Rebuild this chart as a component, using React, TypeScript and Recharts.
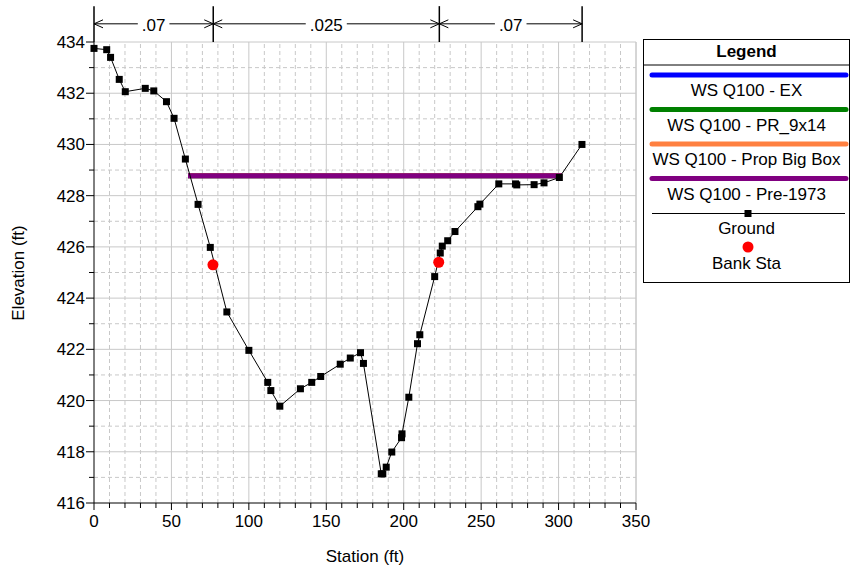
import { ComposedChart, XAxis, YAxis, Scatter, ReferenceLine } from 'recharts'

const groundStation = [
  0, 8.2, 10.7, 16.3, 20.2, 33.1, 38.6, 46.8, 51.7, 59.0, 67.2, 75.1, 85.8, 100.0, 112.2, 114.2, 120.0, 133.3,
  140.6, 146.4, 159.0, 165.5, 172.1, 174.0, 185.5, 186.5, 188.7, 192.3, 198.6, 198.9, 203.3, 208.9, 210.4,
  220.0, 223.6, 224.9, 228.4, 233.1, 247.9, 249.2, 261.4, 272.2, 273.0, 284.2, 290.6, 300.5, 315.1,
]
const groundElev = [
  433.75, 433.7, 433.4, 432.54, 432.06, 432.19, 432.09, 431.67, 431.02, 429.43, 427.66, 425.98, 423.46, 421.96,
  420.71, 420.39, 419.78, 420.46, 420.71, 420.94, 421.42, 421.66, 421.87, 421.45, 417.14, 417.14, 417.4, 417.99,
  418.55, 418.7, 420.13, 422.22, 422.57, 424.84, 425.76, 426.03, 426.24, 426.6, 427.57, 427.67, 428.46, 428.46,
  428.42, 428.43, 428.5, 428.71, 430.0,
]

const bankStation = [76.8, 222.6]
const bankElev = [425.3, 425.4]

const wsNames = ['WS Q100 - EX', 'WS Q100 - PR_9x14', 'WS Q100 - Prop Big Box', 'WS Q100 - Pre-1973']
const wsElev = [428.78, 428.78, 428.78, 428.78]
const wsStart = [60.7, 60.7, 60.7, 60.7]
const wsEnd = [302.2, 302.2, 302.2, 302.2]
const wsColors = ['#0000ff', '#008000', '#ff8040', '#800080']

// Manning's n regions along the top
const nBounds = [0, 77, 223, 315.2]
const nValues = ['.07', '.025', '.07']

const xTicks = Array.from({ length: 36 }, (_, i) => i * 10)
const yTicks = Array.from({ length: 19 }, (_, i) => 416 + i)

const ground = groundStation.map((s, i) => ({ s, e: groundElev[i] }))
const banks = bankStation.map((s, i) => ({ s, e: bankElev[i] }))
const wsLines = wsNames.map((name, i) => ({
  name,
  color: wsColors[i],
  data: [
    { s: wsStart[i], e: wsElev[i] },
    { s: wsEnd[i], e: wsElev[i] },
  ],
}))

const FONT = '"Liberation Sans", Arial, sans-serif'
const GRID = '#c8c8c8'

function XTick({ x, y, payload }: any) {
  const v = payload.value
  const major = v % 50 === 0
  return (
    <g>
      <line x1={x} y1={y} x2={x} y2={y + (major ? 7 : 5)} stroke="#000" />
      {major && (
        <text x={x} y={y + 24} textAnchor="middle" fontSize={17} fontFamily={FONT} fill="#000">
          {v}
        </text>
      )}
    </g>
  )
}

function YTick({ x, y, payload }: any) {
  const v = payload.value
  const major = v % 2 === 0
  return (
    <g>
      <line x1={x - (major ? 8 : 5)} y1={y} x2={x} y2={y} stroke="#000" />
      {major && (
        <text x={x - 9} y={y + 6} textAnchor="end" fontSize={17} fontFamily={FONT} fill="#000">
          {v}
        </text>
      )}
    </g>
  )
}

function textWidth(t: string) {
  let w = 0
  for (const c of t) w += c === '.' ? 4.7 : 9.45
  return w
}

function spanShape(label: string) {
  return (p: any) => {
    const { x1, x2, y1 } = p
    const mid = (x1 + x2) / 2
    const half = textWidth(label) / 2 + 4
    return (
      <g>
        <line x1={x1} y1={y1} x2={mid - half} y2={y1} stroke="#000" />
        <line x1={mid + half} y1={y1} x2={x2} y2={y1} stroke="#000" />
        <polyline points={`${x1 + 9},${y1 - 4} ${x1},${y1} ${x1 + 9},${y1 + 4}`} fill="none" stroke="#000" />
        <polyline points={`${x2 - 9},${y1 - 4} ${x2},${y1} ${x2 - 9},${y1 + 4}`} fill="none" stroke="#000" />
        <text x={mid} y={y1 + 7.5} textAnchor="middle" fontSize={17} fontFamily={FONT} fill="#000">
          {label}
        </text>
      </g>
    )
  }
}

const Square = ({ cx, cy }: any) => <rect x={cx - 3.5} y={cy - 3.5} width={7} height={7} fill="#000" />
const RedDot = ({ cx, cy }: any) => <circle cx={cx} cy={cy} r={5.5} fill="#ff0000" />
const NoDot = () => <g />

function Legend() {
  const rowH = 34.5
  return (
    <g fontFamily={FONT} fontSize={17} fill="#000">
      <rect x={643.5} y={39.5} width={206} height={243} fill="#fff" stroke="#000" />
      <text x={746.5} y={57} textAnchor="middle" fontWeight="bold">
        Legend
      </text>
      <line x1={643.5} y1={65} x2={849.5} y2={65} stroke="#000" />
      {wsLines.map((w, i) => (
        <g key={w.name}>
          <line x1={652} y1={75 + i * rowH} x2={846} y2={75 + i * rowH} stroke={w.color} strokeWidth={5} strokeLinecap="round" />
          <text x={746.5} y={96 + i * rowH} textAnchor="middle">
            {w.name}
          </text>
        </g>
      ))}
      <line x1={652} y1={213.5} x2={845} y2={213.5} stroke="#000" />
      <rect x={744.5} y={210} width={7} height={7} fill="#000" />
      <text x={746.5} y={234} textAnchor="middle">
        Ground
      </text>
      <circle cx={748} cy={247} r={5.5} fill="#ff0000" />
      <text x={746.5} y={269} textAnchor="middle">
        Bank Sta
      </text>
    </g>
  )
}

export default function App() {
  return (
    <div style={{ position: 'absolute', left: 0, top: 0, width: 851, height: 565, background: '#fff' }}>
      <ComposedChart width={851} height={565} margin={{ top: 42, right: 215, bottom: 0, left: 0 }}>
        <XAxis
          type="number"
          dataKey="s"
          domain={[0, 350]}
          ticks={xTicks}
          interval={0}
          tickSize={0}
          tickMargin={0}
          tick={<XTick />}
          height={62}
          axisLine={{ stroke: '#000' }}
          tickLine={false}
        />
        <YAxis
          type="number"
          dataKey="e"
          domain={[416, 434]}
          ticks={yTicks}
          interval={0}
          tickSize={0}
          tickMargin={0}
          tick={<YTick />}
          width={94}
          axisLine={{ stroke: '#000' }}
          tickLine={false}
        />
        {xTicks.slice(1).concat([350]).map((v) => (
          <ReferenceLine
            key={'x' + v}
            x={v}
            stroke={GRID}
            strokeDasharray={v % 50 === 0 ? undefined : '4 3'}
          />
        ))}
        {yTicks.slice(1).map((v) => (
          <ReferenceLine
            key={'y' + v}
            y={v}
            stroke={GRID}
            strokeDasharray={v % 2 === 0 ? undefined : '4 3'}
          />
        ))}
        {nBounds.map((b) => (
          <ReferenceLine
            key={'nb' + b}
            segment={[
              { x: b, y: 434 },
              { x: b, y: 435.4 },
            ]}
            stroke="#000"
            strokeWidth={1.5}
            ifOverflow="visible"
          />
        ))}
        {nValues.map((n, i) => (
          <ReferenceLine
            key={'nv' + i}
            segment={[
              { x: nBounds[i], y: 434.71 },
              { x: nBounds[i + 1], y: 434.71 },
            ]}
            ifOverflow="visible"
            shape={spanShape(n)}
          />
        ))}
        {wsLines.map((w) => (
          <Scatter
            key={w.name}
            name={w.name}
            data={w.data}
            line={{ stroke: w.color, strokeWidth: 5 }}
            shape={<NoDot />}
            isAnimationActive={false}
          />
        ))}
        <Scatter
          name="Ground"
          data={ground}
          line={{ stroke: '#000', strokeWidth: 1 }}
          shape={<Square />}
          isAnimationActive={false}
        />
        <Scatter name="Bank Sta" data={banks} shape={<RedDot />} isAnimationActive={false} />
      </ComposedChart>
      <svg width={851} height={565} style={{ position: 'absolute', left: 0, top: 0, pointerEvents: 'none' }}>
        <text x={365} y={562} textAnchor="middle" fontSize={17} fontFamily={FONT} fill="#000">
          Station (ft)
        </text>
        <text
          x={24}
          y={273}
          textAnchor="middle"
          fontSize={17}
          fontFamily={FONT}
          fill="#000"
          transform="rotate(-90 24 273)"
        >
          Elevation (ft)
        </text>
        <Legend />
      </svg>
    </div>
  )
}
